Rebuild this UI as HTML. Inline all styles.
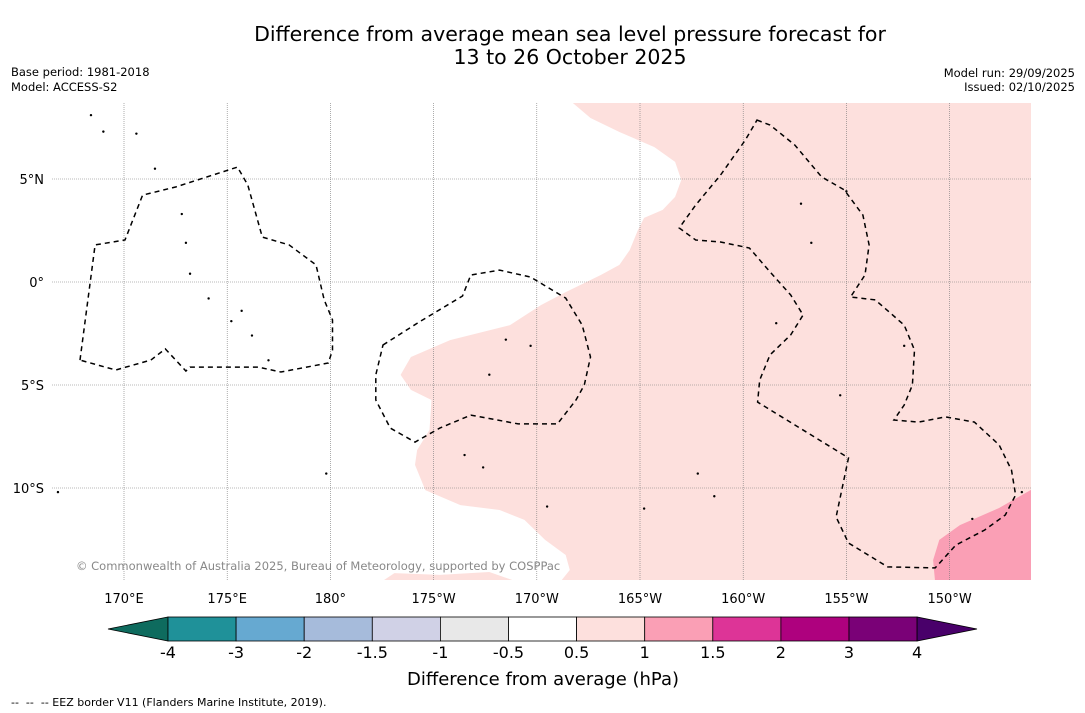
<!DOCTYPE html>
<html><head><meta charset="utf-8"><style>
body{margin:0;background:#fff;font-family:"DejaVu Sans","Liberation Sans",sans-serif;}
svg{display:block}
</style></head><body>
<svg width="1085" height="713" viewBox="0 0 1085 713" font-family="'DejaVu Sans','Liberation Sans',sans-serif">
<text x="570" y="41" font-size="20.5" text-anchor="middle">Difference from average mean sea level pressure forecast for</text>
<text x="570" y="64" font-size="20.5" text-anchor="middle">13 to 26 October 2025</text>
<text x="11" y="76" font-size="11.5">Base period: 1981-2018</text>
<text x="11" y="91" font-size="11.5">Model: ACCESS-S2</text>
<text x="1075" y="77" font-size="11.5" text-anchor="end">Model run: 29/09/2025</text>
<text x="1075" y="91" font-size="11.5" text-anchor="end">Issued: 02/10/2025</text>
<defs><clipPath id="mapclip"><rect x="52" y="103" width="979" height="477"/></clipPath></defs>
<g id="map" clip-path="url(#mapclip)"></g>
<g id="axes"></g>
<text x="76" y="570" font-size="11.5" fill="#888">© Commonwealth of Australia 2025, Bureau of Meteorology, supported by COSPPac</text>
<g id="cbar"></g>
<text x="543" y="685" font-size="18" text-anchor="middle">Difference from average (hPa)</text>
<text x="11" y="706" font-size="11" xml:space="preserve" style="white-space:pre">--  --  -- EEZ border V11 (Flanders Marine Institute, 2019).</text>
</svg>
<script>
const NS="http://www.w3.org/2000/svg";
const lonTicks=[170,175,180,185,190,195,200,205,210];
const lonLabels=["170°E","175°E","180°","175°W","170°W","165°W","160°W","155°W","150°W"];
const latTicks=[5,0,-5,-10];
const latLabels=["5°N","0°","5°S","10°S"];
const cbTicks=["-4","-3","-2","-1.5","-1","-0.5","0.5","1","1.5","2","3","4"];
const cbColors=["#1f9199","#66a9d1","#a6bbdb","#d0d1e6","#e8e8e8","#ffffff","#fde0dd","#fa9fb5","#dd3497","#ae017e","#7a0177"];
const cbLow="#0e6b5e", cbHigh="#49006a";
const pinkLon=[191.5,192.6,194.0,195.7,196.7,197.0,196.7,196.1,195.2,194.9,194.5,194.0,193.1,191.4,190.2,188.7,185.8,183.9,183.4,183.9,184.9,184.8,184.2,184.1,184.6,186.3,188.2,189.4,190.4,191.4,191.6,191.1,214.1,214.1];
const pinkLat=[8.9,7.96,7.28,6.55,5.83,4.95,4.13,3.5,3.11,2.52,1.55,0.83,0.34,-0.49,-1.12,-2.09,-2.82,-3.64,-4.51,-5.24,-5.73,-7.18,-8.16,-8.88,-10.1,-10.83,-11.07,-11.55,-12.52,-13.25,-13.98,-14.6,-14.6,8.9];
const pink2Lon=[182.4,183.1,185.3,187.7,189.2];
const pink2Lat=[-14.6,-14.13,-14.22,-14.08,-14.6];
const darkLon=[214.1,212.4,210.5,209.5,209.2,209.3,214.1];
const darkLat=[-10.0,-10.97,-11.8,-12.52,-13.5,-14.6,-14.6];
const eezALon=[167.87,168.6,170.05,170.9,172.5,175.5,176.0,176.7,178.0,179.3,179.7,180.1,180.1,179.9,177.6,176.5,173.2,173.0,172.0,171.3,169.6];
const eezALat=[-3.79,1.8,2.04,4.22,4.61,5.58,4.71,2.18,1.8,0.83,-0.87,-1.84,-3.3,-3.93,-4.37,-4.13,-4.13,-4.32,-3.25,-3.79,-4.27];
const eezBLon=[182.55,184.3,186.4,186.8,188.2,189.7,191.4,192.2,192.6,192.3,191.9,191.0,189.1,186.8,185.3,184.1,182.9,182.2,182.2];
const eezBLat=[-3.06,-1.94,-0.68,0.34,0.58,0.24,-0.78,-2.09,-3.64,-5.0,-5.73,-6.89,-6.89,-6.46,-7.09,-7.77,-7.09,-5.73,-4.51];
const eezCLon=[200.67,201.3,202.5,203.8,204.9,205.8,206.1,205.9,205.2,206.4,207.8,208.3,208.2,207.8,207.3,208.5,209.8,211.2,212.4,213.0,213.2,212.7,211.7,210.3,209.3,207.0,205.1,204.5,205.1,200.7,200.8,201.3,202.3,202.9,202.3,201.3,200.3,198.9,197.7,196.9,197.7,198.9,200.1];
const eezCLat=[7.86,7.62,6.65,5.1,4.47,3.25,1.8,0.34,-0.73,-0.87,-2.09,-3.3,-5.0,-5.97,-6.7,-6.8,-6.55,-6.8,-7.91,-9.13,-10.34,-11.31,-12.04,-12.77,-13.88,-13.83,-12.67,-11.41,-8.54,-5.83,-4.76,-3.54,-2.57,-1.6,-0.63,0.49,1.65,1.94,2.04,2.62,3.74,5.19,6.89];
const islLon=[168.4,169.0,170.6,171.5,172.8,173.0,173.2,174.1,175.2,175.7,176.2,177.0,179.8,188.5,189.7,187.7,190.5,195.2,197.8,198.6,201.6,203.3,204.7,207.8,211.1,213.5,202.8,205.0,166.8,166.2,186.5,187.4];
const islLat=[8.1,7.3,7.2,5.5,3.3,1.9,0.4,-0.8,-1.9,-1.4,-2.6,-3.8,-9.3,-2.8,-3.1,-4.5,-10.9,-11.0,-9.3,-10.4,-2.0,1.9,-5.5,-3.1,-11.5,-10.2,3.8,4.4,-10.2,-13.0,-8.4,-9.0];
const X=lon=>124+(lon-170)*20.64;
const Y=lat=>282-lat*20.6;
const map=document.getElementById('map');
function poly(lons,lats,fill,name,stroke,dash,closed){
  const p=document.createElementNS(NS,'path');
  let d=lons.map((l,i)=>(i?'L':'M')+X(l).toFixed(1)+' '+Y(lats[i]).toFixed(1)).join(' ');
  if(closed)d+=' Z';
  p.setAttribute('d',d);p.setAttribute('fill',fill);
  if(stroke){p.setAttribute('stroke',stroke);p.setAttribute('stroke-width','1.5');}
  if(dash)p.setAttribute('stroke-dasharray',dash);
  
  
  map.appendChild(p);
}
poly(pinkLon,pinkLat,"#fde0dd","anomaly-region-0.5-1",null,null,true);
poly(pink2Lon,pink2Lat,"#fde0dd","anomaly-region-0.5-1-south",null,null,true);
poly(darkLon,darkLat,"#fa9fb5","anomaly-region-1-1.5",null,null,true);
const ax=document.getElementById('axes');
lonTicks.forEach((t,i)=>{
  const l=document.createElementNS(NS,'line');
  l.setAttribute('x1',X(t));l.setAttribute('x2',X(t));l.setAttribute('y1',103);l.setAttribute('y2',580);
  l.setAttribute('stroke','#777');l.setAttribute('stroke-width','0.6');l.setAttribute('stroke-dasharray','1 1');
  
  
  map.appendChild(l);
  const tx=document.createElementNS(NS,'text');
  tx.setAttribute('x',X(t));tx.setAttribute('y',603);tx.setAttribute('font-size','13');tx.setAttribute('text-anchor','middle');
  tx.textContent=lonLabels[i];
  
  
  ax.appendChild(tx);
});
latTicks.forEach((t,i)=>{
  const l=document.createElementNS(NS,'line');
  l.setAttribute('x1',52);l.setAttribute('x2',1031);l.setAttribute('y1',Y(t));l.setAttribute('y2',Y(t));
  l.setAttribute('stroke','#777');l.setAttribute('stroke-width','0.6');l.setAttribute('stroke-dasharray','1 1');
  
  
  map.appendChild(l);
  const tx=document.createElementNS(NS,'text');
  tx.setAttribute('x',44);tx.setAttribute('y',Y(t)+5);tx.setAttribute('font-size','13');tx.setAttribute('text-anchor','end');
  tx.textContent=latLabels[i];
  
  
  ax.appendChild(tx);
});
poly(eezALon,eezALat,"none","eez-border-gilbert","#000","5 4",true);
poly(eezBLon,eezBLat,"none","eez-border-phoenix","#000","5 4",true);
poly(eezCLon,eezCLat,"none","eez-border-line-islands","#000","5 4",true);
islLon.forEach((l,i)=>{
  const c=document.createElementNS(NS,'circle');
  c.setAttribute('cx',X(l));c.setAttribute('cy',Y(islLat[i]));c.setAttribute('r','1.2');c.setAttribute('fill','#000');
  
  
  map.appendChild(c);
});
const cb=document.getElementById('cbar');
const cx0=168,cw=68.1,cy=617,ch=24;
const left=document.createElementNS(NS,'polygon');
left.setAttribute('points',`${cx0},${cy} ${cx0},${cy+ch} 108,${cy+ch/2}`);left.setAttribute('fill',cbLow);left.setAttribute('stroke','#000');left.setAttribute('stroke-width','0.8');


cb.appendChild(left);
cbColors.forEach((c,i)=>{
  const r=document.createElementNS(NS,'rect');
  r.setAttribute('x',cx0+i*cw);r.setAttribute('y',cy);r.setAttribute('width',cw);r.setAttribute('height',ch);
  r.setAttribute('fill',c);r.setAttribute('stroke','#000');r.setAttribute('stroke-width','0.8');
  
  
  cb.appendChild(r);
});
const xe=cx0+cbColors.length*cw;
const right=document.createElementNS(NS,'polygon');
right.setAttribute('points',`${xe},${cy} ${xe},${cy+ch} 977,${cy+ch/2}`);right.setAttribute('fill',cbHigh);right.setAttribute('stroke','#000');right.setAttribute('stroke-width','0.8');


cb.appendChild(right);
cbTicks.forEach((t,i)=>{
  const tx=document.createElementNS(NS,'text');
  tx.setAttribute('x',cx0+i*cw);tx.setAttribute('y',658);tx.setAttribute('font-size','16');tx.setAttribute('text-anchor','middle');
  tx.textContent=t;
  
  
  cb.appendChild(tx);
});
</script>
</body></html>
